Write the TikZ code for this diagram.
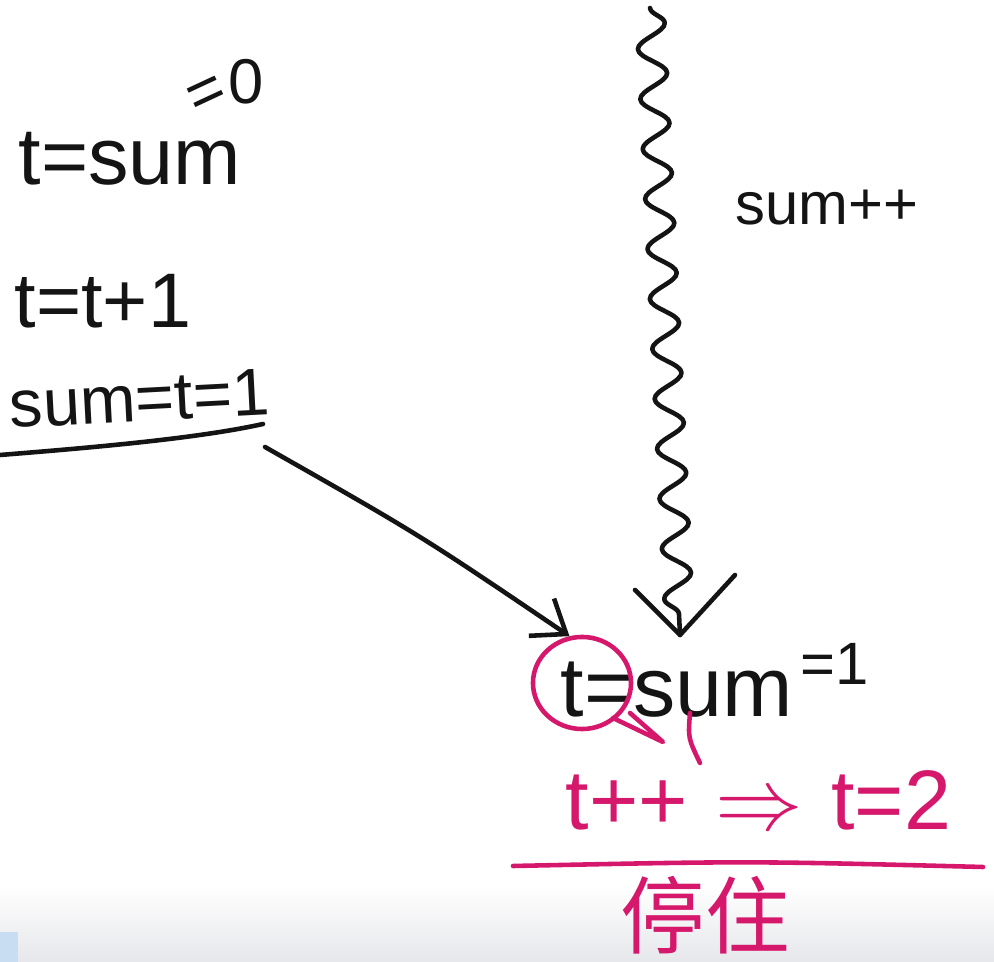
\documentclass[tikz,border=0pt]{standalone}
\usepackage{fontspec}
\setmainfont{Liberation Sans}
\newfontfamily\cjk{Noto Sans CJK SC}
\usetikzlibrary{decorations.pathmorphing,arrows.meta,shapes.geometric}
\definecolor{pen}{RGB}{214,24,108}
\definecolor{ink}{RGB}{20,20,20}
\definecolor{band}{RGB}{230,231,235}
\definecolor{tab}{RGB}{200,220,242}
\begin{document}
\begin{tikzpicture}[x=0.01cm,y=-0.01cm, line cap=round, line join=round,
  inktext/.style={text=ink, inner sep=0pt, font=\fontsize{24}{28}\selectfont},
  pentext/.style={text=pen, inner sep=0pt, font=\fontsize{24}{28}\selectfont},
  inkline/.style={draw=ink, line width=1.3pt},
  penline/.style={draw=pen, line width=1.3pt}]
\useasboundingbox (0,0) rectangle (994,962);
\fill[white] (0,0) rectangle (994,962);
\shade[top color=white, bottom color=band] (0,885) rectangle (994,962);
\fill[tab] (0,932) rectangle (18,962);

% left column
\node[inktext, anchor=base west, font=\fontsize{23}{27}\selectfont] (tsum0) at (18,185) {t=sum};
\node[inktext, anchor=center, font=\fontsize{18}{20}\selectfont, rotate=25] (eq0) at (208,97) {=};
\node[inktext, anchor=center, font=\fontsize{18}{20}\selectfont] (zero) at (246,82) {0};
\node[inktext, anchor=base west, font=\fontsize{22}{26}\selectfont] (tinc) at (14,328) {t=t+1};
\node[inktext, anchor=base west, font=\fontsize{19}{22}\selectfont, rotate=3] (sumt) at (10,428) {sum=t=1};
\coordinate (ul1) at (0,455);
\coordinate (ul2) at (263,424);
\draw[inkline] (ul1) .. controls (100,447) and (200,438) .. (ul2);

% right label and wavy arrow
\node[inktext, anchor=base west, font=\fontsize{17}{20}\selectfont] (spp) at (735,225) {sum++};
\coordinate (wtop) at (650,8);
\coordinate (wtip) at (680,635);
\coordinate (vl) at (635,590);
\coordinate (vr) at (735,575);
\draw[inkline, decorate, decoration={snake, amplitude=4pt, segment length=0.5cm, post length=2pt}] (wtop) -- (wtip);
\draw[inkline] (vl) -- (wtip) -- (vr);

% bottom right expression
\node[inktext, anchor=base west] (tsum1) at (560,717) {t=sum};
\node[inktext, anchor=base west, font=\fontsize{17}{20}\selectfont] (one) at (800,685) {=1};
\node[draw=pen, line width=1.3pt, ellipse, minimum width=0.98cm, minimum height=0.92cm] (circ) at (582,683) {};

% arrow from sum=t=1 to circle
\coordinate (astart) at (265,447);
\draw[inkline, -{Straight Barb[length=0.3cm, width=0.45cm]}] (astart) .. controls (420,535) .. (circ.105);

% bubble tail and stroke
\draw[penline] (613,718) -- (663,742) -- (630,713);
\draw[penline] (690,713) .. controls (688,738) .. (700,763);

\node[pentext, anchor=base west] (tpp) at (565,830) {t++\,\,$\Rightarrow$\,\,t=2};
\coordinate (pl1) at (513,866);
\coordinate (pl2) at (983,867);
\draw[penline] (pl1) .. controls (750,861) .. (pl2);
\node[pentext, anchor=base west, font=\fontsize{24}{28}\selectfont\cjk] (stop) at (620,948) {停住};
\end{tikzpicture}
\end{document}
